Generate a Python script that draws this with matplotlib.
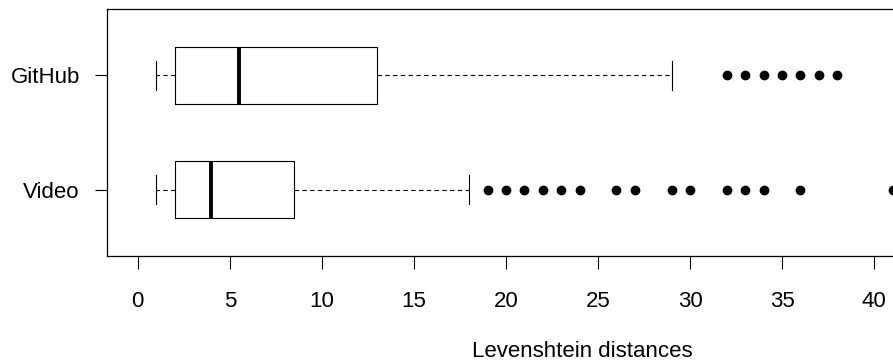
import numpy as np
import matplotlib.pyplot as plt

# values
groups = ['Video', 'GitHub']
whisker_lo = [1, 1]
q1 = [2, 2]
medians = [4, 5.5]
q3 = [8.5, 13]
whisker_hi = [18, 29]
outliers = [
    [19, 20, 21, 22, 23, 24, 26, 27, 29, 30, 32, 33, 34, 36, 41],
    [32, 33, 34, 35, 36, 37, 38],
]
xticks = [0, 5, 10, 15, 20, 25, 30, 35, 40]

plt.rcParams['font.family'] = ['Liberation Sans', 'DejaVu Sans']
plt.rcParams['font.size'] = 16

fig = plt.figure(figsize=(8.93, 3.6), dpi=100)
# the original plot region runs past the right edge of the picture
ax = fig.add_axes([0.1198, 0.2889, 1.0652, 0.6861])

stats = []
for i in range(len(groups)):
    stats.append(dict(label=groups[i], whislo=whisker_lo[i], q1=q1[i], med=medians[i],
                      q3=q3[i], whishi=whisker_hi[i], fliers=outliers[i]))

ax.bxp(stats, positions=[1, 2], widths=0.5, orientation='horizontal',
       boxprops=dict(color='black', linewidth=0.8),
       medianprops=dict(color='black', linewidth=2.8, solid_capstyle='butt'),
       whiskerprops=dict(color='black', linewidth=0.8, linestyle=(0, (4, 3))),
       capprops=dict(color='black', linewidth=0.8),
       capwidths=0.25,
       flierprops=dict(marker='o', markerfacecolor='black', markeredgecolor='black',
                       markersize=6, linestyle='none'))

ax.set_xlim(-1.67, 50)
ax.set_ylim(0.42, 2.58)
ax.set_xticks(xticks)
ax.set_xticklabels([str(t) for t in xticks])
ax.set_yticks([1, 2])
ax.set_yticklabels(groups)
ax.tick_params(axis='x', length=9.4, width=0.8, pad=15.5, direction='out')
ax.tick_params(axis='y', length=9, width=0.8, pad=10.5, direction='out')
for s in ax.spines.values():
    s.set_linewidth(0.9)

ax.set_xlabel('Levenshtein distances', labelpad=21)

fig.savefig('out.png', dpi=100)
